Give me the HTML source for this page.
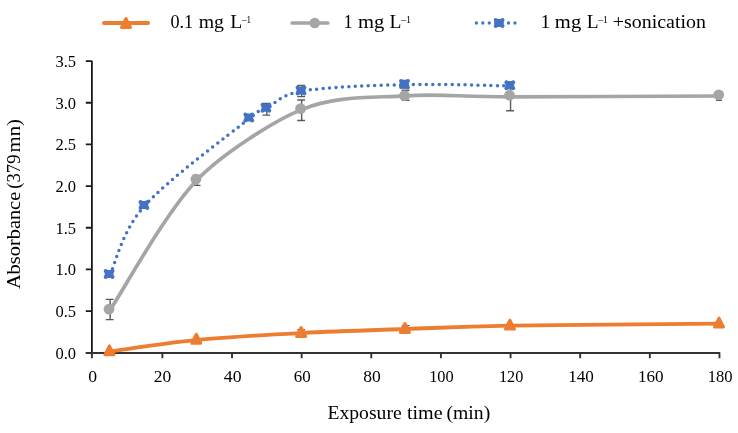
<!DOCTYPE html>
<html><head><meta charset="utf-8"><style>
html,body{margin:0;padding:0;background:#fff;}
svg{display:block;will-change:transform;}
text{font-family:"Liberation Serif",serif;fill:#000;}
</style></head><body>
<svg width="738" height="433" viewBox="0 0 738 433">
<path d="M91.9,60.8 V353 M85.8,352.78 H91.9 M85.8,311.10 H91.9 M85.8,269.43 H91.9 M85.8,227.75 H91.9 M85.8,186.08 H91.9 M85.8,144.40 H91.9 M85.8,102.73 H91.9 M85.8,61.06 H91.9 " stroke="#1a1a1a" stroke-width="1.8" fill="none"/>
<path d="M85.8,353 H720.3 M91.90,353 V358.2 M162.38,353 V358.2 M232.01,353 V358.2 M301.65,353 V358.2 M371.28,353 V358.2 M440.92,353 V358.2 M510.56,353 V358.2 M580.19,353 V358.2 M649.83,353 V358.2 M719.46,353 V358.2 " stroke="#333333" stroke-width="1.9" fill="none"/>
<text x="55.40" y="358.58" font-size="16.5">0.0</text>
<text x="55.42" y="316.90" font-size="16.5">0.5</text>
<text x="55.40" y="275.23" font-size="16.5">1.0</text>
<text x="55.42" y="233.56" font-size="16.5">1.5</text>
<text x="55.40" y="191.88" font-size="16.5">2.0</text>
<text x="55.42" y="150.20" font-size="16.5">2.5</text>
<text x="55.40" y="108.53" font-size="16.5">3.0</text>
<text x="55.42" y="66.86" font-size="16.5">3.5</text>
<text transform="translate(88.13,381.80) scale(1.0725,1)" font-size="16.50">0</text>
<text transform="translate(153.73,381.80) scale(1.0564,1)" font-size="16.50">20</text>
<text transform="translate(223.85,381.80) scale(1.0740,1)" font-size="16.50">40</text>
<text transform="translate(293.67,381.80) scale(1.0288,1)" font-size="16.50">60</text>
<text transform="translate(363.13,381.80) scale(1.0628,1)" font-size="16.50">80</text>
<text transform="translate(429.16,381.80) scale(0.9924,1)" font-size="16.50">100</text>
<text transform="translate(498.97,381.80) scale(0.9836,1)" font-size="16.50">120</text>
<text transform="translate(568.20,381.80) scale(1.0365,1)" font-size="16.50">140</text>
<text transform="translate(637.90,381.80) scale(1.0365,1)" font-size="16.50">160</text>
<text transform="translate(707.64,381.80) scale(1.0057,1)" font-size="16.50">180</text>
<path d="M301.65,329.60 V334.50 M297.25,329.60 H305.05 M297.25,334.50 H305.05" stroke="#595959" stroke-width="1.4" fill="none"/>
<path d="M406.10,325.60 V330.40 M401.70,325.60 H409.50 M401.70,330.40 H409.50" stroke="#595959" stroke-width="1.4" fill="none"/>
<path d="M110.15,299.40 V319.60 M105.75,299.40 H113.55 M105.75,319.60 H113.55" stroke="#595959" stroke-width="1.4" fill="none"/>
<path d="M197.19,175.40 V185.40 M192.79,175.40 H200.59 M192.79,185.40 H200.59" stroke="#595959" stroke-width="1.4" fill="none"/>
<path d="M301.65,100.00 V120.50 M297.25,100.00 H305.05 M297.25,120.50 H305.05" stroke="#595959" stroke-width="1.4" fill="none"/>
<path d="M406.10,90.30 V100.30 M401.70,90.30 H409.50 M401.70,100.30 H409.50" stroke="#595959" stroke-width="1.4" fill="none"/>
<path d="M510.56,82.00 V110.70 M506.16,82.00 H513.96 M506.16,110.70 H513.96" stroke="#595959" stroke-width="1.4" fill="none"/>
<path d="M719.46,92.00 V100.40 M715.96,92.00 H721.96 M715.96,100.40 H721.96" stroke="#595959" stroke-width="1.4" fill="none"/>
<path d="M266.83,103.50 V115.10 M262.43,103.50 H270.23 M262.43,115.10 H270.23" stroke="#595959" stroke-width="1.4" fill="none"/>
<path d="M301.65,85.40 V96.60 M297.25,85.40 H305.05 M297.25,96.60 H305.05" stroke="#595959" stroke-width="1.4" fill="none"/>
<path d="M406.10,80.50 V88.00 M401.70,80.50 H409.50 M401.70,88.00 H409.50" stroke="#595959" stroke-width="1.4" fill="none"/>
<path d="M110.30,351.40 C124.78,349.47 165.25,342.87 197.20,339.80 C229.15,336.73 267.23,334.80 302.00,333.00 C336.77,331.20 371.00,330.22 405.80,329.00 C440.60,327.78 458.45,326.60 510.80,325.70 C563.15,324.80 685.05,323.95 719.90,323.60" stroke="#ED7D31" stroke-width="3.8" fill="none" stroke-linecap="round" stroke-linejoin="round"/>
<path d="M109.90,310.20 C124.38,288.53 164.87,213.63 196.80,180.20 C221.71,154.12 274.38,120.57 301.50,109.60 C336.27,95.53 370.58,97.93 405.40,95.80 C440.22,93.67 458.03,96.77 510.40,96.80 C562.77,96.83 684.73,96.13 719.60,96.00" stroke="#A5A5A5" stroke-width="3.7" fill="none" stroke-linecap="round" stroke-linejoin="round"/>
<path d="M110.00,274.50 C115.80,263.02 121.52,231.65 144.80,205.60 C168.08,179.55 229.37,134.40 249.70,118.20" stroke="#4472C4" stroke-width="3.5" fill="none" stroke-linecap="round" stroke-dasharray="0 6.44" stroke-dashoffset="0.00"/>
<path d="M249.70,118.20 C270.03,102.00 258.10,112.92 266.80,108.40" stroke="#4472C4" stroke-width="3.5" fill="none" stroke-linecap="round" stroke-dasharray="0 6.44" stroke-dashoffset="2.36"/>
<path d="M266.80,108.40 C275.50,103.88 278.82,95.07 301.90,91.10" stroke="#4472C4" stroke-width="3.5" fill="none" stroke-linecap="round" stroke-dasharray="0 6.44" stroke-dashoffset="2.63"/>
<path d="M301.90,91.10 C324.98,87.13 370.50,85.47 405.30,84.60" stroke="#4472C4" stroke-width="3.5" fill="none" stroke-linecap="round" stroke-dasharray="0 6.44" stroke-dashoffset="4.30"/>
<path d="M405.30,84.60 C440.10,83.73 493.13,85.68 510.70,85.90" stroke="#4472C4" stroke-width="3.5" fill="none" stroke-linecap="round" stroke-dasharray="0 6.44" stroke-dashoffset="4.68"/>
<path d="M109.40,345.90 L113.90,354.80 L104.90,354.80 Z" fill="#ED7D31" stroke="#ED7D31" stroke-width="3.0" stroke-linejoin="round"/>
<path d="M196.30,334.30 L200.80,343.20 L191.80,343.20 Z" fill="#ED7D31" stroke="#ED7D31" stroke-width="3.0" stroke-linejoin="round"/>
<path d="M301.10,327.50 L305.60,336.40 L296.60,336.40 Z" fill="#ED7D31" stroke="#ED7D31" stroke-width="3.0" stroke-linejoin="round"/>
<path d="M404.90,323.50 L409.40,332.40 L400.40,332.40 Z" fill="#ED7D31" stroke="#ED7D31" stroke-width="3.0" stroke-linejoin="round"/>
<path d="M509.90,320.20 L514.40,329.10 L505.40,329.10 Z" fill="#ED7D31" stroke="#ED7D31" stroke-width="3.0" stroke-linejoin="round"/>
<path d="M719.00,318.10 L723.50,327.00 L714.50,327.00 Z" fill="#ED7D31" stroke="#ED7D31" stroke-width="3.0" stroke-linejoin="round"/>
<circle cx="109.00" cy="309.20" r="5.40" fill="#A5A5A5"/>
<circle cx="195.90" cy="179.20" r="5.40" fill="#A5A5A5"/>
<circle cx="300.60" cy="108.60" r="5.40" fill="#A5A5A5"/>
<circle cx="404.50" cy="95.60" r="5.40" fill="#A5A5A5"/>
<circle cx="509.50" cy="95.20" r="5.40" fill="#A5A5A5"/>
<circle cx="718.70" cy="94.90" r="5.40" fill="#A5A5A5"/>
<g transform="translate(109.10,273.90)" fill="#4472C4"><rect x="-4.4" y="-4.0" width="8.8" height="8.0" rx="1"/><circle cx="-3.4" cy="-3.0" r="2.0"/><circle cx="3.4" cy="-3.0" r="2.0"/><circle cx="-3.4" cy="3.0" r="2.0"/><circle cx="3.4" cy="3.0" r="2.0"/></g>
<g transform="translate(143.90,205.00)" fill="#4472C4"><rect x="-4.4" y="-4.0" width="8.8" height="8.0" rx="1"/><circle cx="-3.4" cy="-3.0" r="2.0"/><circle cx="3.4" cy="-3.0" r="2.0"/><circle cx="-3.4" cy="3.0" r="2.0"/><circle cx="3.4" cy="3.0" r="2.0"/></g>
<g transform="translate(248.80,117.60)" fill="#4472C4"><rect x="-4.4" y="-4.0" width="8.8" height="8.0" rx="1"/><circle cx="-3.4" cy="-3.0" r="2.0"/><circle cx="3.4" cy="-3.0" r="2.0"/><circle cx="-3.4" cy="3.0" r="2.0"/><circle cx="3.4" cy="3.0" r="2.0"/></g>
<g transform="translate(265.90,107.80)" fill="#4472C4"><rect x="-4.4" y="-4.0" width="8.8" height="8.0" rx="1"/><circle cx="-3.4" cy="-3.0" r="2.0"/><circle cx="3.4" cy="-3.0" r="2.0"/><circle cx="-3.4" cy="3.0" r="2.0"/><circle cx="3.4" cy="3.0" r="2.0"/></g>
<g transform="translate(301.00,90.50)" fill="#4472C4"><rect x="-4.4" y="-4.0" width="8.8" height="8.0" rx="1"/><circle cx="-3.4" cy="-3.0" r="2.0"/><circle cx="3.4" cy="-3.0" r="2.0"/><circle cx="-3.4" cy="3.0" r="2.0"/><circle cx="3.4" cy="3.0" r="2.0"/></g>
<g transform="translate(404.40,84.00)" fill="#4472C4"><rect x="-4.4" y="-4.0" width="8.8" height="8.0" rx="1"/><circle cx="-3.4" cy="-3.0" r="2.0"/><circle cx="3.4" cy="-3.0" r="2.0"/><circle cx="-3.4" cy="3.0" r="2.0"/><circle cx="3.4" cy="3.0" r="2.0"/></g>
<g transform="translate(509.80,85.30)" fill="#4472C4"><rect x="-4.4" y="-4.0" width="8.8" height="8.0" rx="1"/><circle cx="-3.4" cy="-3.0" r="2.0"/><circle cx="3.4" cy="-3.0" r="2.0"/><circle cx="-3.4" cy="3.0" r="2.0"/><circle cx="3.4" cy="3.0" r="2.0"/></g>
<path d="M103.9,23 H148.1" stroke="#ED7D31" stroke-width="3.8" stroke-linecap="round"/>
<path d="M126.00,18.50 L130.50,27.40 L121.50,27.40 Z" fill="#ED7D31" stroke="#ED7D31" stroke-width="3.0" stroke-linejoin="round"/>
<path d="M292.2,23 H327.8" stroke="#A5A5A5" stroke-width="3.7" stroke-linecap="round"/>
<circle cx="314.70" cy="23.00" r="5.30" fill="#A5A5A5"/>
<path d="M476.4,23 H516" stroke="#4472C4" stroke-width="3.3" stroke-linecap="round" stroke-dasharray="0 6.43"/>
<g transform="translate(499.10,23.00)" fill="#4472C4"><rect x="-4.4" y="-4.0" width="8.8" height="8.0" rx="1"/><circle cx="-3.4" cy="-3.0" r="2.0"/><circle cx="3.4" cy="-3.0" r="2.0"/><circle cx="-3.4" cy="3.0" r="2.0"/><circle cx="3.4" cy="3.0" r="2.0"/></g>
<text transform="translate(170.41,27.90) scale(0.9550,1)" font-size="19.00">0.1</text>
<text transform="translate(198.68,27.90) scale(1.0418,1)" font-size="19.00">mg</text>
<text transform="translate(230.13,27.90) scale(1.0386,1)" font-size="19.00">L</text>
<text transform="translate(242.06,22.60) scale(0.9083,1)" font-size="10.00">–1</text>
<text transform="translate(343.58,27.90) scale(0.9717,1)" font-size="19.00">1</text>
<text transform="translate(357.97,27.90) scale(1.0843,1)" font-size="19.00">mg</text>
<text transform="translate(389.44,27.90) scale(1.0285,1)" font-size="19.00">L</text>
<text transform="translate(401.07,22.60) scale(1.0034,1)" font-size="10.00">–1</text>
<text transform="translate(540.58,27.90) scale(1.0315,1)" font-size="19.00">1</text>
<text transform="translate(554.87,27.90) scale(1.0843,1)" font-size="19.00">mg</text>
<text transform="translate(586.74,27.90) scale(1.0184,1)" font-size="19.00">L</text>
<text transform="translate(598.27,22.60) scale(0.9612,1)" font-size="10.00">–1</text>
<text transform="translate(612.81,27.90) scale(1.0493,1)" font-size="19.00">+sonication</text>
<text transform="translate(327.43,419.10) scale(1.0347,1)" font-size="19.00">Exposure</text>
<text transform="translate(406.90,419.10) scale(1.0600,1)" font-size="19.00">time</text>
<text transform="translate(446.43,419.10) scale(1.0384,1)" font-size="19.00">(min)</text>
<text transform="translate(19.75,288.90) rotate(-90) scale(1.0734,1) translate(-0.19,0)" font-size="19.00">Absorbance</text>
<text transform="translate(19.75,187.90) rotate(-90) scale(0.9815,1) translate(-0.83,0)" font-size="19.00">(379</text>
<text transform="translate(19.75,152.00) rotate(-90) scale(1.0946,1) translate(-0.40,0)" font-size="19.00">mn)</text>
</svg>
</body></html>
